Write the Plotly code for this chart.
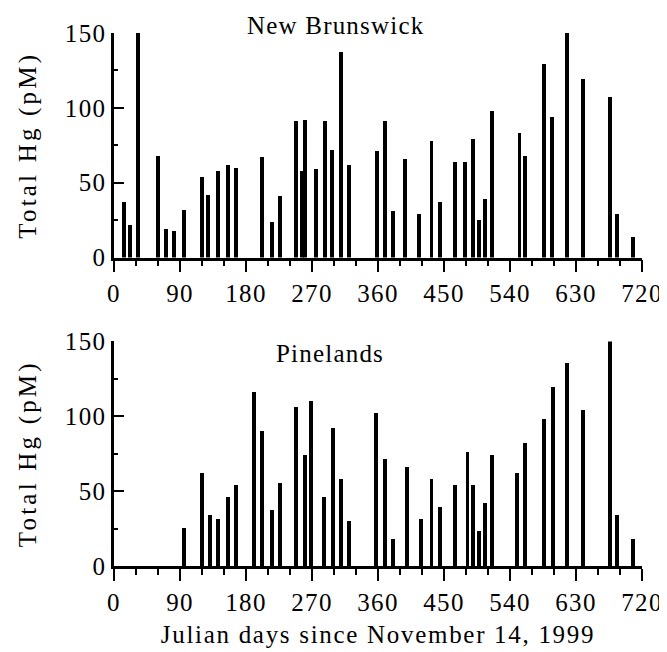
import plotly.graph_objects as go
from plotly.subplots import make_subplots

# New Brunswick (top panel)
nb_days = [14, 22, 33, 60, 71, 82, 96, 120, 128, 142, 155, 166, 202, 215, 226,
           248, 256, 261, 275, 288, 297, 310, 321, 359, 370, 381, 397, 416, 433,
           444, 465, 479, 490, 498, 506, 515, 553, 561, 586, 597, 618, 640, 676,
           686, 708]
nb_hg = [37, 22, 150, 68, 19, 18, 32, 54, 42, 58, 62, 60, 67, 24, 41,
         91, 58, 92, 59, 91, 72, 137, 62, 71, 91, 31, 66, 29, 78,
         37, 64, 64, 79, 25, 39, 98, 83, 68, 129, 94, 150, 119, 107,
         29, 14]

# Pinelands (bottom panel)
pl_days = [96, 120, 131, 142, 155, 166, 191, 202, 215, 226, 248, 261, 269,
           286, 299, 310, 321, 357, 370, 381, 400, 419, 433, 444, 465, 482,
           490, 498, 506, 515, 550, 561, 586, 599, 618, 640, 676, 686, 708]
pl_hg = [25, 62, 34, 31, 46, 54, 116, 90, 37, 55, 106, 74, 110,
         46, 92, 58, 30, 102, 71, 18, 66, 31, 58, 39, 54, 76,
         54, 23, 42, 74, 62, 82, 98, 119, 135, 104, 151, 34, 18]

x_ticks = [0, 90, 180, 270, 360, 450, 540, 630, 720]
y_ticks = [0, 50, 100, 150]
x_title = "Julian days since November 14, 1999"
y_title = "Total Hg (pM)"
panel_names = ["New Brunswick", "Pinelands"]

FONT = "Liberation Serif"
FS = 25


def spaced(s, px):
    return '<span style="letter-spacing:%spx">%s</span>' % (px, s)


fig = make_subplots(rows=2, cols=1, vertical_spacing=0.1574)
fig.add_trace(go.Bar(x=nb_days, y=nb_hg, width=5.2, marker=dict(color="black", line=dict(width=0)),
                     showlegend=False), row=1, col=1)
fig.add_trace(go.Bar(x=pl_days, y=pl_hg, width=5.2, marker=dict(color="black", line=dict(width=0)),
                     showlegend=False), row=2, col=1)

tfont = dict(family=FONT, size=FS, color="black")
xcommon = dict(range=[0, 720], tickvals=x_ticks, ticktext=[spaced(str(v), 1.3) for v in x_ticks],
               ticks="outside", ticklen=12, tickwidth=2,
               tickcolor="black", showline=True, linecolor="black", linewidth=2.5,
               showgrid=False, zeroline=False,
               minor=dict(dtick=30, tick0=0, ticks="outside", ticklen=6, tickwidth=2,
                          tickcolor="black", showgrid=False),
               tickfont=tfont)
ycommon = dict(range=[0, 150], tickvals=y_ticks, ticktext=[spaced(str(v), 1.3) for v in y_ticks],
               ticks="inside", ticklen=10, tickwidth=2,
               tickcolor="black", showline=True, linecolor="black", linewidth=2.5,
               showgrid=False, zeroline=False,
               minor=dict(dtick=25, tick0=0, ticks="inside", ticklen=4, tickwidth=2,
                          tickcolor="black", showgrid=False),
               tickfont=tfont,
               title=dict(text=spaced(y_title, 3.2), font=tfont, standoff=22))

fig.update_xaxes(**xcommon)
fig.update_yaxes(**ycommon)
fig.update_xaxes(title=dict(text=spaced(x_title, 1.7), font=tfont, standoff=11),
                 row=2, col=1)

fig.add_annotation(text=spaced(panel_names[0], 1.2), x=302, y=1.033, xref="x", yref="y domain",
                   showarrow=False, font=tfont, yanchor="middle")
fig.add_annotation(text=spaced(panel_names[1], 1.2), x=295, y=0.948, xref="x2", yref="y2 domain",
                   showarrow=False, font=tfont, yanchor="middle")

fig.update_layout(width=667, height=652, margin=dict(l=106, r=33, t=22, b=94),
                  plot_bgcolor="white", paper_bgcolor="white", bargap=0,
                  font=tfont)
fig.update_traces(cliponaxis=True)

fig.write_html("out.html")
